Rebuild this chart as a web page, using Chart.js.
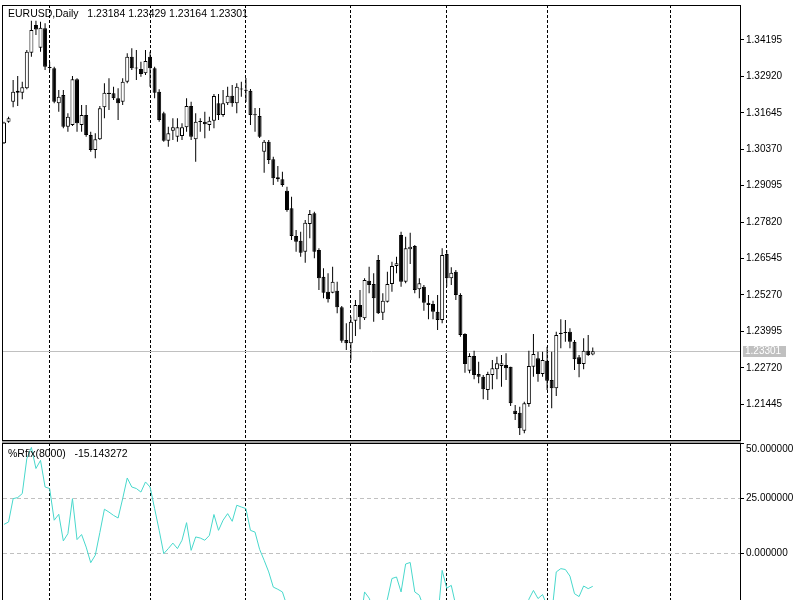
<!DOCTYPE html>
<html><head><meta charset="utf-8">
<script src="https://cdn.jsdelivr.net/npm/chart.js@4.4.1/dist/chart.umd.min.js"></script>
<style>
html,body{margin:0;padding:0;background:#fff;width:800px;height:600px;overflow:hidden}
#main{position:absolute;left:0;top:0}
#ind{position:absolute;left:0;top:441px}
</style></head><body>
<canvas id="main" width="800" height="441"></canvas>
<canvas id="ind" width="800" height="159"></canvas>
<script>
const symbol = 'EURUSD,Daily';
const indicatorName = '%Rfix(8000)';

const opens = [1.30580,1.31336,1.32036,1.32421,1.32351,1.32505,1.33751,1.34720,1.33926,1.34605,
1.33240,1.33205,1.31980,1.32270,1.31161,1.31220,1.32820,1.31220,1.31570,1.30870,
1.30345,1.30720,1.31840,1.32351,1.32330,1.32155,1.32036,1.32736,1.33611,1.33215,
1.33180,1.33030,1.33611,1.33205,1.32386,1.31630,1.30671,1.31021,1.30811,1.30835,
1.31140,1.31885,1.30720,1.31346,1.31336,1.31220,1.31371,1.31980,1.31570,1.31980,
1.32246,1.31980,1.32480,1.32445,1.32421,1.31580,1.31535,1.30286,1.30636,1.30020,
1.29390,1.29320,1.28921,1.28305,1.27335,1.27171,1.26786,1.27755,1.28130,1.26845,
1.25910,1.25385,1.25350,1.25420,1.24840,1.23695,1.23580,1.24371,1.24920,1.24454,
1.25770,1.25655,1.26495,1.24650,1.25035,1.25655,1.26285,1.27370,1.25735,1.26870,
1.26985,1.25470,1.25560,1.25000,1.24955,1.24686,1.24395,1.26705,1.25854,1.26085,
1.25270,1.23905,1.22621,1.23135,1.22505,1.22410,1.21945,1.22470,1.22670,1.22785,
1.22820,1.22760,1.21221,1.21150,1.20520,1.21455,1.22760,1.23055,1.22505,1.22971,
1.22295,1.22005,1.23950,1.23957,1.23986,1.23635,1.23090,1.22855,1.23320,1.23184];
const highs = [1.31336,1.31511,1.32795,1.32935,1.32736,1.33845,1.34871,1.34871,1.34836,1.34780,
1.33436,1.33261,1.32445,1.32445,1.31630,1.32935,1.32855,1.31920,1.31920,1.30986,
1.30930,1.31885,1.32680,1.32855,1.32561,1.32505,1.32855,1.33730,1.33905,1.33845,
1.33436,1.33845,1.33786,1.33261,1.32470,1.31686,1.31161,1.31455,1.31455,1.31280,
1.32155,1.32036,1.31630,1.31455,1.31686,1.31511,1.32305,1.32305,1.32445,1.32561,
1.32620,1.32680,1.32736,1.32865,1.32480,1.31815,1.31815,1.30695,1.30695,1.30111,
1.29785,1.29585,1.29061,1.28711,1.27545,1.27486,1.27895,1.28245,1.28186,1.26905,
1.26204,1.26030,1.26260,1.25735,1.24885,1.24280,1.24511,1.25095,1.25445,1.25854,
1.26260,1.26030,1.26670,1.25330,1.26085,1.26435,1.26611,1.27486,1.27310,1.27450,
1.27020,1.25854,1.25620,1.25270,1.25070,1.25270,1.26905,1.26845,1.26240,1.26145,
1.25330,1.23930,1.23230,1.23320,1.22936,1.22470,1.22586,1.22995,1.23111,1.23170,
1.23230,1.22760,1.21420,1.21361,1.21536,1.23320,1.23905,1.23286,1.23286,1.23460,
1.23286,1.23986,1.24420,1.24395,1.24105,1.23695,1.23170,1.23755,1.23870,1.23429];
const lows = [1.30555,1.31301,1.31840,1.31885,1.32120,1.32470,1.33611,1.34370,1.33786,1.33145,
1.33135,1.31980,1.31686,1.31105,1.30986,1.31185,1.30986,1.30986,1.30811,1.30286,
1.30055,1.30695,1.31455,1.31745,1.32095,1.31395,1.31920,1.32680,1.33145,1.32795,
1.32911,1.32970,1.32561,1.32155,1.31336,1.30636,1.30461,1.30695,1.30636,1.30695,
1.30986,1.30695,1.29936,1.30986,1.30755,1.31021,1.31105,1.31395,1.31511,1.31920,
1.31861,1.31630,1.32211,1.32025,1.31220,1.30986,1.30765,1.29551,1.29855,1.29120,
1.29236,1.29061,1.28186,1.27195,1.26786,1.26611,1.26401,1.27255,1.26555,1.25445,
1.25154,1.25010,1.25330,1.24630,1.23600,1.23345,1.22995,1.23835,1.24070,1.24395,
1.25330,1.24335,1.24605,1.24395,1.25010,1.25385,1.26030,1.25560,1.25680,1.26355,
1.25330,1.25154,1.24721,1.24420,1.24420,1.24045,1.24280,1.25560,1.25620,1.25095,
1.23810,1.22550,1.22530,1.22320,1.22180,1.21620,1.21595,1.21970,1.22320,1.22060,
1.22295,1.21385,1.20895,1.20370,1.20430,1.21361,1.22410,1.22236,1.22410,1.21945,
1.21305,1.21735,1.23405,1.23635,1.23405,1.22645,1.22390,1.22670,1.23135,1.23164];
const closes = [1.31308,1.31455,1.32386,1.32351,1.32540,1.33786,1.34545,1.34563,1.34626,1.33261,
1.33215,1.32036,1.32211,1.31161,1.31511,1.32820,1.31280,1.31570,1.30870,1.30345,
1.30720,1.31805,1.32351,1.32305,1.32155,1.31980,1.32736,1.33611,1.33205,1.33194,
1.33005,1.33460,1.33205,1.32351,1.31395,1.30671,1.30930,1.31140,1.31140,1.31140,
1.31885,1.30811,1.31336,1.31325,1.31245,1.31371,1.32235,1.31570,1.31980,1.32246,
1.31980,1.32561,1.32459,1.32421,1.31570,1.31559,1.30811,1.30636,1.29995,1.29355,
1.29320,1.29120,1.28245,1.27335,1.27136,1.26751,1.27800,1.28105,1.26786,1.25854,
1.25350,1.25120,1.25735,1.24840,1.23670,1.23580,1.24335,1.24920,1.24490,1.25795,
1.25620,1.25154,1.24630,1.25070,1.25655,1.26285,1.26380,1.25735,1.26905,1.26960,
1.25445,1.25680,1.25000,1.24920,1.24686,1.24395,1.26670,1.25854,1.26050,1.25270,
1.23870,1.22855,1.23135,1.22470,1.22410,1.21970,1.22505,1.22705,1.22880,1.22880,
1.22705,1.21480,1.21105,1.20605,1.21480,1.22785,1.23205,1.22505,1.22995,1.22271,
1.22005,1.23870,1.23905,1.23940,1.23635,1.23020,1.22855,1.23320,1.23170,1.23301];
const rfix = [13.0,14.1,24.7,25.2,27.0,42.9,48.0,38.4,42.1,30.0,
29.3,14.9,17.6,5.5,8.8,24.7,6.1,8.4,2.7,-4.4,
-1.0,9.3,19.9,18.6,17.1,15.9,24.7,34.1,30.0,29.3,
27.7,32.3,30.0,20.2,10.3,-0.3,2.0,4.5,2.0,5.8,
13.8,1.2,7.3,6.8,5.8,8.0,17.5,10.3,14.9,17.9,
14.4,21.7,20.9,20.2,10.3,9.5,1.7,-3.3,-8.6,-15.5,
-16.5,-17.7,-24,-30,-32,-35,-28,-26,-34,-40,
-44,-46,-41,-46,-55,-56,-48,-30,-33,-17.7,
-20.5,-26,-31,-27,-21,-11.6,-10.9,-17.7,-5.0,-4.3,
-17.7,-19.2,-25,-26,-28,-31,-7.9,-16.0,-14.7,-24,
-30,-40,-37,-43,-44,-48,-44,-42,-40,-40,
-42,-52,-55,-58,-50,-21.0,-17.0,-20.7,-18.9,-24,
-28,-8.6,-7.1,-7.5,-10.5,-18.5,-19.8,-15.0,-16.2,-15.143272];

const priceTicks = [1.34195,1.32920,1.31645,1.30370,1.29095,1.27820,1.26545,1.25270,1.23995,1.22720,1.21445];
const rfixTicks = [50, 25, 0];
const monthStarts = [10, 32, 53, 76, 97, 119, 146];

const FAMILY = '"Liberation Sans", Arial, sans-serif';
Chart.defaults.font.family = FAMILY;
Chart.defaults.font.size = 10;
Chart.defaults.color = '#000';

const last = closes.length - 1;
const f5 = v => v.toFixed(5);
const isBull = i => closes[i] >= opens[i];

const xAxis = {
  type: 'linear', min: -0.22, max: 161.26, offset: false,
  afterBuildTicks: s => { s.ticks = monthStarts.map(v => ({value: v})); },
  afterFit: s => { s.height = 0; s.paddingLeft = 0; s.paddingRight = 0; },
  ticks: {display: false},
  grid: {display: true, offset: false, color: '#000', lineWidth: 1, drawTicks: false, drawOnChartArea: true},
  border: {display: false, dash: [3, 2]}
};

const yFit = s => { s.width = 60; s.paddingTop = 0; s.paddingBottom = 0; };

const framePlugin = {
  id: 'frame',
  afterDraw(chart) {
    const {ctx, chartArea: a} = chart;
    ctx.save();
    ctx.strokeStyle = '#000'; ctx.lineWidth = 1;
    ctx.strokeRect(a.left - 0.5, a.top + 0.5, a.right - a.left + 1, a.bottom - a.top);
    ctx.restore();
  }
};

function labelPlugin(getText, baseline) {
  return {
    id: 'paneLabel',
    afterDraw(chart) {
      const ctx = chart.ctx;
      ctx.save();
      ctx.font = '10.5px ' + FAMILY;
      ctx.fillStyle = '#000';
      ctx.textBaseline = 'alphabetic';
      ctx.textAlign = 'left';
      ctx.fillText(getText(), 8, baseline);
      ctx.restore();
    }
  };
}

const priceLinePlugin = {
  id: 'priceLine',
  beforeDatasetsDraw(chart) {
    const {ctx, chartArea: a, scales} = chart;
    const y = Math.round(scales.y.getPixelForValue(closes[last])) + 0.5;
    ctx.save();
    ctx.strokeStyle = '#c0c0c0'; ctx.lineWidth = 1;
    ctx.beginPath(); ctx.moveTo(a.left, y); ctx.lineTo(a.right, y); ctx.stroke();
    ctx.restore();
  },
  afterDraw(chart) {
    const {ctx, chartArea: a, scales} = chart;
    const y = Math.round(scales.y.getPixelForValue(closes[last]));
    ctx.save();
    ctx.fillStyle = '#c0c0c0';
    ctx.fillRect(a.right + 3, y - 5, 43, 11);
    ctx.fillStyle = '#fff';
    ctx.font = '10px ' + FAMILY;
    ctx.textBaseline = 'middle';
    ctx.textAlign = 'left';
    ctx.fillText(f5(closes[last]), a.right + 5, y + 0.5);
    ctx.restore();
  }
};

new Chart(document.getElementById('main'), {
  type: 'bar',
  data: {
    datasets: [
      {
        label: 'body',
        data: opens.map((o, i) => ({x: i, y: [o, closes[i]]})),
        grouped: false, barThickness: 4, minBarLength: 1,
        backgroundColor: c => isBull(c.dataIndex) ? '#ffffff' : '#000000',
        borderColor: '#000', borderWidth: 1, borderSkipped: false, inflateAmount: 0,
        order: 0
      },
      {
        label: 'wick',
        data: lows.map((l, i) => ({x: i, y: [l, highs[i]]})),
        grouped: false, barThickness: 1, minBarLength: 1,
        backgroundColor: '#000', borderWidth: 0, inflateAmount: 0,
        order: 1
      }
    ]
  },
  options: {
    responsive: false, animation: false, devicePixelRatio: 1,
    layout: {padding: {left: 3, top: 5, right: 0, bottom: 1}},
    plugins: {legend: {display: false}, tooltip: {enabled: false}, title: {display: false}},
    scales: {
      x: xAxis,
      y: {
        position: 'right', min: 1.20194, max: 1.35420,
        afterBuildTicks: s => { s.ticks = priceTicks.map(v => ({value: v})); },
        afterFit: yFit,
        ticks: {autoSkip: false, padding: 2, color: '#000', font: {size: 10}, callback: v => Number(v).toFixed(5)},
        grid: {drawOnChartArea: false, drawTicks: true, tickLength: 4, tickColor: '#000', color: '#000'},
        border: {display: true, color: '#000', width: 1}
      }
    }
  },
  plugins: [priceLinePlugin, framePlugin,
    labelPlugin(() => `${symbol}   ${f5(opens[last])} ${f5(highs[last])} ${f5(lows[last])} ${f5(closes[last])}`, 17)]
});

const separatorPlugin = {
  id: 'separator',
  beforeDraw(chart) {
    const {ctx, chartArea: a} = chart;
    ctx.save();
    ctx.fillStyle = '#a0a0a0';
    ctx.fillRect(a.left - 1, 0, a.right - a.left + 2, 2);
    ctx.restore();
  }
};

new Chart(document.getElementById('ind'), {
  type: 'line',
  data: {
    datasets: [{
      label: indicatorName,
      data: rfix.map((v, i) => ({x: i, y: v})),
      borderColor: '#48d8cc', borderWidth: 1, pointRadius: 0, tension: 0, fill: false
    }]
  },
  options: {
    responsive: false, animation: false, devicePixelRatio: 1,
    layout: {padding: {left: 3, top: 2, right: 0, bottom: 0}},
    plugins: {legend: {display: false}, tooltip: {enabled: false}},
    scales: {
      x: xAxis,
      y: {
        position: 'right', min: -21.36, max: 50,
        afterBuildTicks: s => { s.ticks = rfixTicks.map(v => ({value: v})); },
        afterFit: yFit,
        ticks: {autoSkip: false, padding: 2, color: '#000', font: {size: 10},
          callback: v => v === rfixTicks[0] ? ['', Number(v).toFixed(6)] : Number(v).toFixed(6)},
        grid: {drawOnChartArea: true, drawTicks: true, tickLength: 4, tickColor: '#000', color: '#c0c0c0', tickBorderDash: []},
        border: {display: true, color: '#000', width: 1, dash: [4, 3]}
      }
    }
  },
  plugins: [separatorPlugin, framePlugin,
    labelPlugin(() => `${indicatorName}   ${rfix[last].toFixed(6)}`, 16)]
});
</script>
</body></html>
